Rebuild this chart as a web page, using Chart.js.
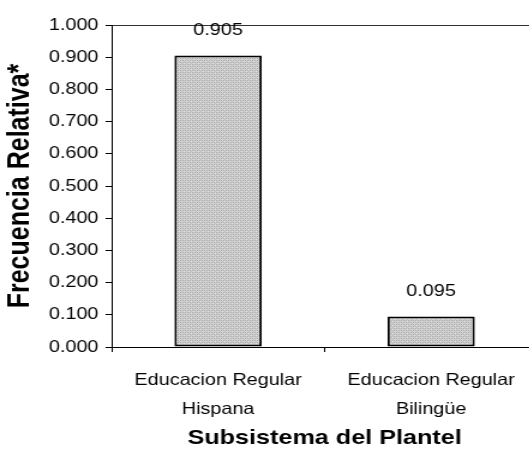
<!DOCTYPE html>
<html>
<head>
<meta charset="utf-8">
<script src="https://cdn.jsdelivr.net/npm/chart.js@4"></script>
<style>
    html, body { margin: 0; padding: 0; background: #fff; overflow: hidden; width: 529px; height: 455px; }
    /* el original escaneado esta estirado en horizontal */
    #chartSubsistema { transform: scaleX(1.2); transform-origin: 0 0; }
</style>
</head>
<body>
<canvas id="chartSubsistema" width="450" height="455"></canvas>
<script>
const categorias = [['Educacion Regular', 'Hispana'], ['Educacion Regular', 'Bilingüe']];
const frecuencias = [0.905, 0.095];
const tituloY = 'Frecuencia Relativa*';
const tituloX = 'Subsistema del Plantel';

const fuente = "'Liberation Sans', Arial, sans-serif";

// textura gris punteada para las barras
function crearTrama(ctx) {
    const c = document.createElement('canvas');
    c.width = 4; c.height = 4;
    const g = c.getContext('2d');
    g.fillStyle = '#d6d6d6';
    g.fillRect(0, 0, 4, 4);
    g.fillStyle = '#a6a6a6';
    g.fillRect(0, 0, 1, 1);
    g.fillRect(2, 2, 1, 1);
    g.fillRect(2, 0, 1, 1);
    g.fillRect(0, 2, 1, 1);
    g.fillStyle = '#bfbfbf';
    g.fillRect(1, 1, 1, 1);
    g.fillRect(3, 3, 1, 1);
    return ctx.createPattern(c, 'repeat');
}

const etiquetasValor = {
    id: 'etiquetasValor',
    afterDatasetsDraw(chart) {
        const ctx = chart.ctx;
        const meta = chart.getDatasetMeta(0);
        ctx.save();
        ctx.font = '16.5px ' + fuente;
        ctx.fillStyle = '#000';
        ctx.textAlign = 'center';
        ctx.textBaseline = 'middle';
        meta.data.forEach((bar, i) => {
            ctx.fillText(frecuencias[i].toFixed(3), bar.x, bar.y - 25);
        });
        ctx.restore();
    }
};

const ctx = document.getElementById('chartSubsistema').getContext('2d');

new Chart(ctx, {
    type: 'bar',
    data: {
        labels: categorias,
        datasets: [{
            label: 'Frecuencia Relativa',
            data: frecuencias,
            backgroundColor: crearTrama(ctx),
            borderColor: '#000',
            borderWidth: 2,
            borderSkipped: false,
            barPercentage: 0.41,
            categoryPercentage: 1
        }]
    },
    options: {
        responsive: false,
        animation: false,
        layout: { padding: { top: 25, right: 2, left: 0, bottom: 0 } },
        plugins: {
            legend: { display: false },
            tooltip: { enabled: false }
        },
        scales: {
            y: {
                min: 0,
                max: 1,
                ticks: {
                    stepSize: 0.1,
                    padding: 6,
                    color: '#000',
                    font: { family: fuente, size: 16.5 },
                    callback: (v) => v.toFixed(3)
                },
                grid: {
                    color: (c) => c.tick && c.tick.value === 1 ? '#333' : 'rgba(0,0,0,0)',
                    tickColor: '#000',
                    tickLength: 5,
                    lineWidth: 1
                },
                border: { color: '#000', width: 1 },
                title: {
                    display: true,
                    text: tituloY,
                    color: '#000',
                    font: { family: fuente, size: 25, weight: 'bold' },
                    padding: { top: 2, bottom: 0 }
                },
                afterFit: (s) => { s.width = 93; }
            },
            x: {
                ticks: {
                    color: '#000',
                    padding: 14,
                    font: { family: fuente, size: 16.5, lineHeight: 1.76 }
                },
                grid: {
                    drawOnChartArea: false,
                    tickColor: '#000',
                    tickLength: 5
                },
                border: { color: '#000', width: 1 },
                title: {
                    display: true,
                    text: tituloX,
                    color: '#000',
                    font: { family: fuente, size: 21, weight: 'bold' },
                    padding: { top: 6, bottom: 4 }
                },
                afterFit: (s) => { s.height = 108; }
            }
        }
    },
    plugins: [etiquetasValor]
});
</script>
</body>
</html>
